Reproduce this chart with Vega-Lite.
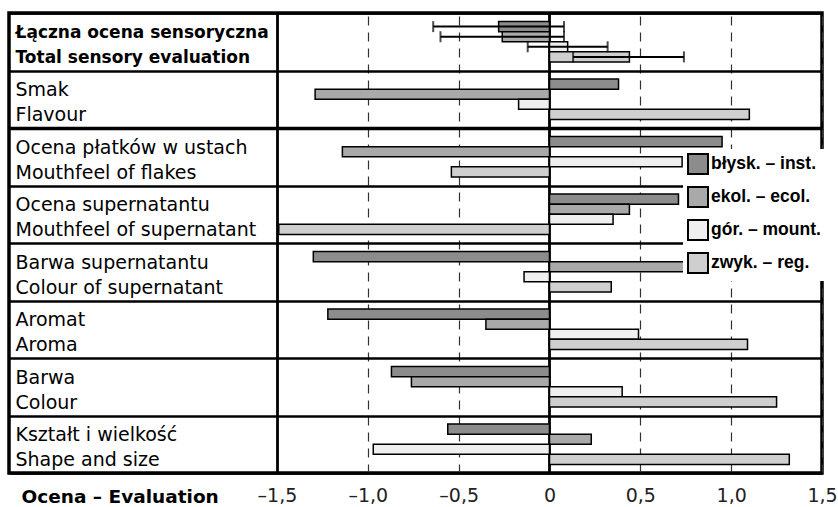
{
  "$schema": "https://vega.github.io/schema/vega-lite/v6.json",
  "width": 813,
  "height": 460,
  "autosize": {"type": "none"},
  "padding": {"left": 9, "top": 13, "right": 16, "bottom": 34},
  "background": "white",
  "config": {"view": {"stroke": "black", "strokeWidth": 3.5}, "font": "DejaVu Sans"},
  "datasets": {
    "bars": [
      {"cat": "Łączna ocena sensoryczna|Total sensory evaluation", "s": "błysk. – inst.", "v": -0.28},
      {"cat": "Łączna ocena sensoryczna|Total sensory evaluation", "s": "ekol. – ecol.", "v": -0.26},
      {"cat": "Łączna ocena sensoryczna|Total sensory evaluation", "s": "gór. – mount.", "v": 0.10},
      {"cat": "Łączna ocena sensoryczna|Total sensory evaluation", "s": "zwyk. – reg.", "v": 0.44},
      {"cat": "Smak|Flavour", "s": "błysk. – inst.", "v": 0.38},
      {"cat": "Smak|Flavour", "s": "ekol. – ecol.", "v": -1.29},
      {"cat": "Smak|Flavour", "s": "gór. – mount.", "v": -0.17},
      {"cat": "Smak|Flavour", "s": "zwyk. – reg.", "v": 1.10},
      {"cat": "Ocena płatków w ustach|Mouthfeel of flakes", "s": "błysk. – inst.", "v": 0.95},
      {"cat": "Ocena płatków w ustach|Mouthfeel of flakes", "s": "ekol. – ecol.", "v": -1.14},
      {"cat": "Ocena płatków w ustach|Mouthfeel of flakes", "s": "gór. – mount.", "v": 0.73},
      {"cat": "Ocena płatków w ustach|Mouthfeel of flakes", "s": "zwyk. – reg.", "v": -0.54},
      {"cat": "Ocena supernatantu|Mouthfeel of supernatant", "s": "błysk. – inst.", "v": 0.71},
      {"cat": "Ocena supernatantu|Mouthfeel of supernatant", "s": "ekol. – ecol.", "v": 0.44},
      {"cat": "Ocena supernatantu|Mouthfeel of supernatant", "s": "gór. – mount.", "v": 0.35},
      {"cat": "Ocena supernatantu|Mouthfeel of supernatant", "s": "zwyk. – reg.", "v": -1.49},
      {"cat": "Barwa supernatantu|Colour of supernatant", "s": "błysk. – inst.", "v": -1.30},
      {"cat": "Barwa supernatantu|Colour of supernatant", "s": "ekol. – ecol.", "v": 1.11},
      {"cat": "Barwa supernatantu|Colour of supernatant", "s": "gór. – mount.", "v": -0.14},
      {"cat": "Barwa supernatantu|Colour of supernatant", "s": "zwyk. – reg.", "v": 0.34},
      {"cat": "Aromat|Aroma", "s": "błysk. – inst.", "v": -1.22},
      {"cat": "Aromat|Aroma", "s": "ekol. – ecol.", "v": -0.35},
      {"cat": "Aromat|Aroma", "s": "gór. – mount.", "v": 0.49},
      {"cat": "Aromat|Aroma", "s": "zwyk. – reg.", "v": 1.09},
      {"cat": "Barwa|Colour", "s": "błysk. – inst.", "v": -0.87},
      {"cat": "Barwa|Colour", "s": "ekol. – ecol.", "v": -0.76},
      {"cat": "Barwa|Colour", "s": "gór. – mount.", "v": 0.40},
      {"cat": "Barwa|Colour", "s": "zwyk. – reg.", "v": 1.25},
      {"cat": "Kształt i wielkość|Shape and size", "s": "błysk. – inst.", "v": -0.56},
      {"cat": "Kształt i wielkość|Shape and size", "s": "ekol. – ecol.", "v": 0.23},
      {"cat": "Kształt i wielkość|Shape and size", "s": "gór. – mount.", "v": -0.97},
      {"cat": "Kształt i wielkość|Shape and size", "s": "zwyk. – reg.", "v": 1.32}
    ],
    "errs": [
      {"cat": "Łączna ocena sensoryczna|Total sensory evaluation", "s": "błysk. – inst.", "lo": -0.64, "hi": 0.08},
      {"cat": "Łączna ocena sensoryczna|Total sensory evaluation", "s": "ekol. – ecol.", "lo": -0.60, "hi": 0.08},
      {"cat": "Łączna ocena sensoryczna|Total sensory evaluation", "s": "gór. – mount.", "lo": -0.12, "hi": 0.32},
      {"cat": "Łączna ocena sensoryczna|Total sensory evaluation", "s": "zwyk. – reg.", "lo": 0.13, "hi": 0.74}
    ]
  },
  "encoding": {
    "y": {
      "field": "cat", "type": "nominal",
      "sort": ["Łączna ocena sensoryczna|Total sensory evaluation", "Smak|Flavour", "Ocena płatków w ustach|Mouthfeel of flakes", "Ocena supernatantu|Mouthfeel of supernatant", "Barwa supernatantu|Colour of supernatant", "Aromat|Aroma", "Barwa|Colour", "Kształt i wielkość|Shape and size"],
      "scale": {"paddingInner": 0, "paddingOuter": 0},
      "axis": {
        "title": null, "orient": "left",
        "domain": false, "ticks": false,
        "tickBand": "extent",
        "grid": true, "gridColor": "black",
        "gridWidth": {"condition": {"test": "datum.value === 'Smak|Flavour'", "value": 3.5}, "value": 2.5},
        "labelAlign": "left", "labelPadding": -6, "labelBaseline": "middle", "labelOffset": -9.5,
        "labelExpr": "datum.value ? split(datum.value, '|') : ''",
        "labelLineHeight": 25, "labelLimit": 300,
        "labelFont": "DejaVu Sans", "labelColor": "black",
        "labelFontSize": {"condition": {"test": "datum.value === 'Łączna ocena sensoryczna|Total sensory evaluation'", "value": 17}, "value": 19},
        "labelFontWeight": {"condition": {"test": "datum.value === 'Łączna ocena sensoryczna|Total sensory evaluation'", "value": "bold"}, "value": "normal"}
      }
    },
    "yOffset": {
      "field": "s", "type": "nominal",
      "sort": ["błysk. – inst.", "ekol. – ecol.", "gór. – mount.", "zwyk. – reg."],
      "scale": {"paddingInner": 0, "paddingOuter": 0.85}
    }
  },
  "layer": [
    {
      "data": {"name": "bars"},
      "mark": {"type": "bar", "stroke": "black", "strokeWidth": 1.5},
      "encoding": {
        "x": {
          "field": "v", "type": "quantitative",
          "scale": {"domain": [-2.975, 1.5], "nice": false, "zero": false},
          "axis": {
            "title": "Ocena – Evaluation",
            "values": [-1.5, -1, -0.5, 0, 0.5, 1, 1.5],
            "labelExpr": "datum.value == 0 ? '0' : (datum.value < 0 ? '–' : '') + replace(format(abs(datum.value), '.1f'), '.', ',')",
            "labelFont": "DejaVu Sans", "labelFontSize": 19, "labelColor": "#222",
            "labelFlush": false, "labelOverlap": false, "labelPadding": 13,
            "domain": false, "ticks": false,
            "grid": true,
            "gridDash": {"condition": {"test": "datum.value === 0 || datum.value === -1.5", "value": []}, "value": [9, 7]},
            "gridColor": {"condition": {"test": "datum.value === 0 || datum.value === -1.5", "value": "black"}, "value": "#333"},
            "gridWidth": {"condition": {"test": "datum.value === 0 || datum.value === -1.5", "value": 2.8}, "value": 1.2},
            "titleFont": "DejaVu Sans", "titleFontWeight": "bold", "titleFontSize": 18.5, "titleColor": "black",
            "titleX": 12, "titleY": 29, "titleAlign": "left", "titleBaseline": "alphabetic", "titleAngle": 0
          }
        },
        "fill": {
          "field": "s", "type": "nominal",
          "scale": {"domain": ["błysk. – inst.", "ekol. – ecol.", "gór. – mount.", "zwyk. – reg."], "range": ["#8c8c8c", "#a9a9a9", "#efefef", "#cfcfcf"]},
          "legend": {
            "orient": "none", "legendX": 674, "legendY": 136, "title": null,
            "fillColor": "white", "padding": 4,
            "symbolType": "square", "symbolSize": 400, "symbolStrokeColor": "black", "symbolStrokeWidth": 2, "symbolOpacity": 1,
            "labelFont": "Liberation Sans", "labelFontWeight": "bold", "labelFontSize": 17.5, "labelColor": "black",
            "rowPadding": 5, "labelOffset": 2, "labelLimit": 200
          }
        }
      }
    },
    {
      "data": {"name": "errs"},
      "mark": {"type": "rule", "color": "black", "strokeWidth": 2},
      "encoding": {
        "x": {
          "field": "lo", "type": "quantitative",
          "axis": {
            "title": "Ocena – Evaluation",
            "values": [-1.5, -1, -0.5, 0, 0.5, 1, 1.5],
            "labelExpr": "datum.value == 0 ? '0' : (datum.value < 0 ? '–' : '') + replace(format(abs(datum.value), '.1f'), '.', ',')",
            "labelFont": "DejaVu Sans", "labelFontSize": 19, "labelColor": "#222",
            "labelFlush": false, "labelOverlap": false, "labelPadding": 13,
            "domain": false, "ticks": false,
            "grid": true,
            "gridDash": {"condition": {"test": "datum.value === 0 || datum.value === -1.5", "value": []}, "value": [9, 7]},
            "gridColor": {"condition": {"test": "datum.value === 0 || datum.value === -1.5", "value": "black"}, "value": "#333"},
            "gridWidth": {"condition": {"test": "datum.value === 0 || datum.value === -1.5", "value": 2.8}, "value": 1.2},
            "titleFont": "DejaVu Sans", "titleFontWeight": "bold", "titleFontSize": 18.5, "titleColor": "black",
            "titleX": 12, "titleY": 29, "titleAlign": "left", "titleBaseline": "alphabetic", "titleAngle": 0
          }
        },
        "x2": {"field": "hi"}
      }
    },
    {
      "data": {"name": "errs"},
      "mark": {"type": "tick", "color": "black", "thickness": 2, "size": 11},
      "encoding": {
        "x": {
          "field": "lo", "type": "quantitative",
          "axis": {
            "title": "Ocena – Evaluation",
            "values": [-1.5, -1, -0.5, 0, 0.5, 1, 1.5],
            "labelExpr": "datum.value == 0 ? '0' : (datum.value < 0 ? '–' : '') + replace(format(abs(datum.value), '.1f'), '.', ',')",
            "labelFont": "DejaVu Sans", "labelFontSize": 19, "labelColor": "#222",
            "labelFlush": false, "labelOverlap": false, "labelPadding": 13,
            "domain": false, "ticks": false,
            "grid": true,
            "gridDash": {"condition": {"test": "datum.value === 0 || datum.value === -1.5", "value": []}, "value": [9, 7]},
            "gridColor": {"condition": {"test": "datum.value === 0 || datum.value === -1.5", "value": "black"}, "value": "#333"},
            "gridWidth": {"condition": {"test": "datum.value === 0 || datum.value === -1.5", "value": 2.8}, "value": 1.2},
            "titleFont": "DejaVu Sans", "titleFontWeight": "bold", "titleFontSize": 18.5, "titleColor": "black",
            "titleX": 12, "titleY": 29, "titleAlign": "left", "titleBaseline": "alphabetic", "titleAngle": 0
          }
        }
      }
    },
    {
      "data": {"name": "errs"},
      "mark": {"type": "tick", "color": "black", "thickness": 2, "size": 11},
      "encoding": {
        "x": {
          "field": "hi", "type": "quantitative",
          "axis": {
            "title": "Ocena – Evaluation",
            "values": [-1.5, -1, -0.5, 0, 0.5, 1, 1.5],
            "labelExpr": "datum.value == 0 ? '0' : (datum.value < 0 ? '–' : '') + replace(format(abs(datum.value), '.1f'), '.', ',')",
            "labelFont": "DejaVu Sans", "labelFontSize": 19, "labelColor": "#222",
            "labelFlush": false, "labelOverlap": false, "labelPadding": 13,
            "domain": false, "ticks": false,
            "grid": true,
            "gridDash": {"condition": {"test": "datum.value === 0 || datum.value === -1.5", "value": []}, "value": [9, 7]},
            "gridColor": {"condition": {"test": "datum.value === 0 || datum.value === -1.5", "value": "black"}, "value": "#333"},
            "gridWidth": {"condition": {"test": "datum.value === 0 || datum.value === -1.5", "value": 2.8}, "value": 1.2},
            "titleFont": "DejaVu Sans", "titleFontWeight": "bold", "titleFontSize": 18.5, "titleColor": "black",
            "titleX": 12, "titleY": 29, "titleAlign": "left", "titleBaseline": "alphabetic", "titleAngle": 0
          }
        }
      }
    }
  ]
}
